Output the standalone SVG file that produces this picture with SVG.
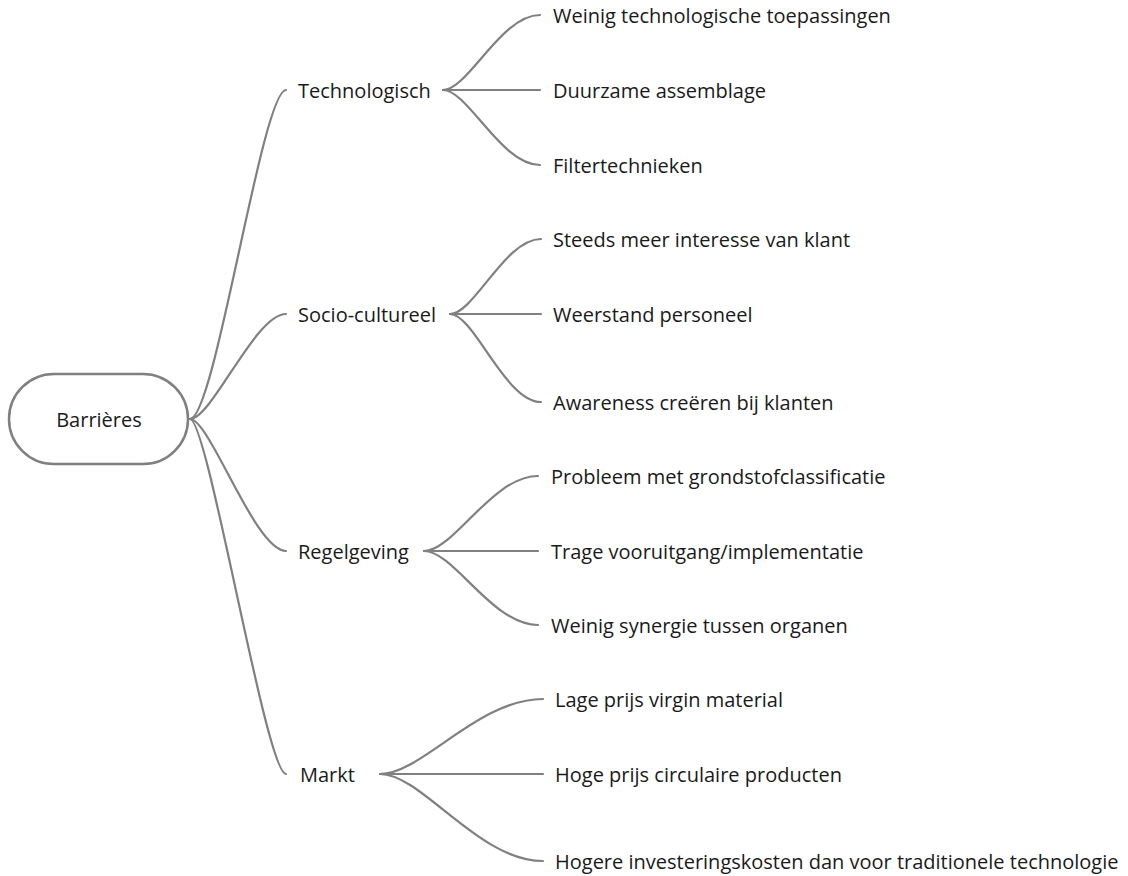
<svg xmlns="http://www.w3.org/2000/svg" width="1128" height="876" viewBox="0 0 1128 876">
<style>
.c{fill:none;stroke:#808080;stroke-width:2.2;stroke-linecap:round}
.t{font-family:"Open Sans","Noto Sans","Liberation Sans",sans-serif;font-size:20px;fill:#1a1a1a}
.root{fill:#ffffff;stroke:#808080;stroke-width:2.5}
</style>
<rect width="1128" height="876" fill="#ffffff"/>
<g id="connectors">
<path class="c" d="M190,419 C215,419 262,90 286,90"/>
<path class="c" d="M190,419 C212,419 255,314 286,314"/>
<path class="c" d="M190,419 C210,419 255,551 286,551"/>
<path class="c" d="M190,419 C208,419 266,774 286,774"/>
<path class="c" d="M443,90 C468,90 501,15 540,15"/>
<path class="c" d="M443,90 L540,90"/>
<path class="c" d="M443,90 C468,90 501,165 540,165"/>
<path class="c" d="M450,314 C474,314 505,239 541,239"/>
<path class="c" d="M450,314 L541,314"/>
<path class="c" d="M450,314 C474,314 505,402 541,402"/>
<path class="c" d="M424,551 C454,551 492,476 538,476"/>
<path class="c" d="M424,551 L538,551"/>
<path class="c" d="M424,551 C454,551 492,625 538,625"/>
<path class="c" d="M380,774 C422,774 478,699 543,699"/>
<path class="c" d="M380,774 L543,774"/>
<path class="c" d="M380,774 C422,774 478,861 543,861"/>
</g>
<g id="root">
<rect class="root" x="9" y="374" width="179" height="90" rx="45" ry="45"/>
<text class="t" x="99" y="427" text-anchor="middle">Barrières</text>
</g>
<g id="technologisch"><text class="t" x="298" y="98">Technologisch</text></g>
<g id="socio-cultureel"><text class="t" x="298" y="322">Socio-cultureel</text></g>
<g id="regelgeving"><text class="t" x="298" y="559">Regelgeving</text></g>
<g id="markt"><text class="t" x="300" y="782">Markt</text></g>
<g id="leaf-t1"><text class="t" x="553" y="23">Weinig technologische toepassingen</text></g>
<g id="leaf-t2"><text class="t" x="553" y="98">Duurzame assemblage</text></g>
<g id="leaf-t3"><text class="t" x="553" y="173">Filtertechnieken</text></g>
<g id="leaf-s1"><text class="t" x="553" y="247">Steeds meer interesse van klant</text></g>
<g id="leaf-s2"><text class="t" x="553" y="322">Weerstand personeel</text></g>
<g id="leaf-s3"><text class="t" x="553" y="410">Awareness creëren bij klanten</text></g>
<g id="leaf-r1"><text class="t" x="551" y="484">Probleem met grondstofclassificatie</text></g>
<g id="leaf-r2"><text class="t" x="551" y="559">Trage vooruitgang/implementatie</text></g>
<g id="leaf-r3"><text class="t" x="551" y="633">Weinig synergie tussen organen</text></g>
<g id="leaf-m1"><text class="t" x="555" y="707">Lage prijs virgin material</text></g>
<g id="leaf-m2"><text class="t" x="555" y="782">Hoge prijs circulaire producten</text></g>
<g id="leaf-m3"><text class="t" x="555" y="869">Hogere investeringskosten dan voor traditionele technologie</text></g>
</svg>
